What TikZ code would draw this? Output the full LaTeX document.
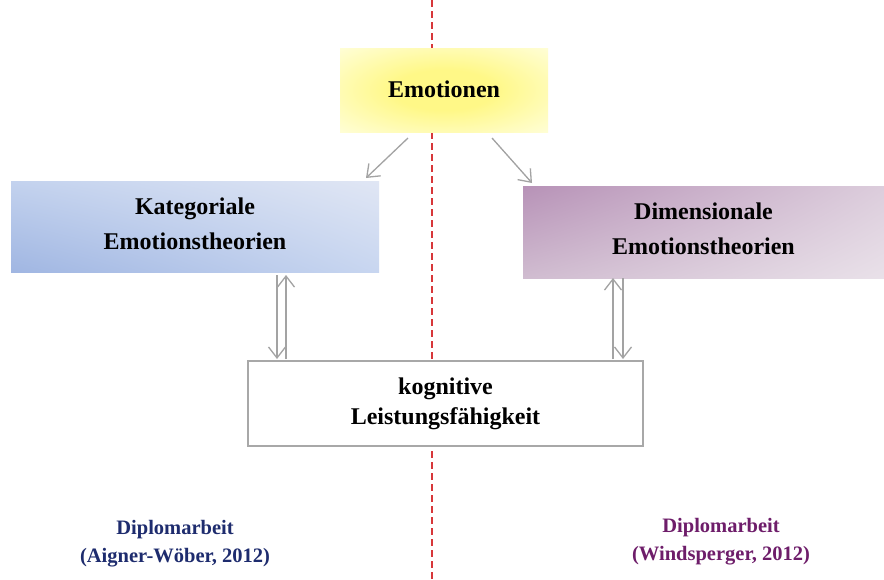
\documentclass[tikz,border=0pt]{standalone}
\usepackage{fontspec}
\setmainfont{Liberation Serif}
\usetikzlibrary{arrows.meta,shadings}

\definecolor{divider}{HTML}{D7373A}
\definecolor{linkgray}{HTML}{A3A3A3}
\definecolor{boxgray}{HTML}{A8A8A8}
\definecolor{navytext}{HTML}{1E2C6E}
\definecolor{plumtext}{HTML}{6E1D6A}
\definecolor{sunA}{RGB}{255,248,135}
\definecolor{sunB}{RGB}{255,252,190}
\definecolor{sunC}{RGB}{255,255,228}

% soft yellow glow, stretched over the whole box
\pgfdeclareradialshading{glow}{\pgfpoint{0bp}{0bp}}{%
  color(0bp)=(sunA); color(12bp)=(sunA); color(28bp)=(sunB);
  color(40bp)=(sunC); color(50bp)=(sunC)}

\tikzset{
  box/.style={rectangle, inner sep=0pt, outer sep=0pt, align=center,
    font=\bfseries\fontsize{24}{35}\selectfont},
  link/.style={draw=linkgray, line width=1.3pt,
    -{Straight Barb[length=11pt,width=17pt,line width=1.3pt]}},
  source/.style={align=center, font=\bfseries\fontsize{20.5}{28}\selectfont}
}

\begin{document}
\begin{tikzpicture}[x=1pt,y=-1pt]
\useasboundingbox[fill=white] (0,0) rectangle (884,579);

% dividing line down the middle
\draw[divider, line width=1.6pt, dash pattern=on 7pt off 4pt] (432,0) -- (432,579);

% top box
\node[box, minimum width=208pt, minimum height=84pt, text depth=2pt,
      shading=glow] (emo) at (444,90)
  {Emotionen};

% left theory box
\node[box, minimum width=368pt, minimum height=91pt, text depth=6pt,
      shading=bilinear interpolation,
      lower left={rgb,255:red,160;green,182;blue,226},
      upper left={rgb,255:red,195;green,210;blue,238},
      lower right={rgb,255:red,200;green,214;blue,240},
      upper right={rgb,255:red,224;green,230;blue,244}] (kat) at (195,226.5)
  {Kategoriale\\Emotionstheorien};

% right theory box
\node[box, minimum width=361pt, minimum height=92pt, text depth=6pt,
      shading=bilinear interpolation,
      upper left={rgb,255:red,183;green,146;blue,183},
      lower left={rgb,255:red,208;green,188;blue,208},
      upper right={rgb,255:red,220;green,205;blue,220},
      lower right={rgb,255:red,233;green,225;blue,233}] (dim) at (703.5,232)
  {Dimensionale\\Emotionstheorien};

% bottom box
\node[box, minimum width=395pt, minimum height=85pt, text depth=4pt,
      font=\bfseries\fontsize{24}{30}\selectfont,
      draw=boxgray, line width=1.2pt, fill=white] (kog) at (445.5,403.5)
  {kognitive\\Leistungsf\"ahigkeit};

% arrows from the top box
\draw[link] ([xshift=-36pt,yshift=-6pt]emo.south) -- ([xshift=-13pt,yshift=3pt]kat.north east);
\draw[link] ([xshift=48pt,yshift=-6pt]emo.south) -- ([xshift=9pt,yshift=3pt]dim.north west);

% two-way links to the bottom box
\draw[link] ([xshift=266pt,yshift=-3pt]kat.south west) -- ([xshift=29pt,yshift=2pt]kog.north west);
\draw[link] ([xshift=38pt,yshift=2pt]kog.north west) -- ([xshift=275pt,yshift=-3pt]kat.south west);
\draw[link] ([xshift=-30pt,yshift=2pt]kog.north east) -- ([xshift=90pt]dim.south west);
\draw[link] ([xshift=100pt]dim.south west) -- ([xshift=-20pt,yshift=2pt]kog.north east);

% sources
\node[source, text=navytext] (srcL) at (175,544) {Diplomarbeit\\(Aigner-W\"ober, 2012)};
\node[source, text=plumtext] (srcR) at (721,542) {Diplomarbeit\\(Windsperger, 2012)};
\end{tikzpicture}
\end{document}
